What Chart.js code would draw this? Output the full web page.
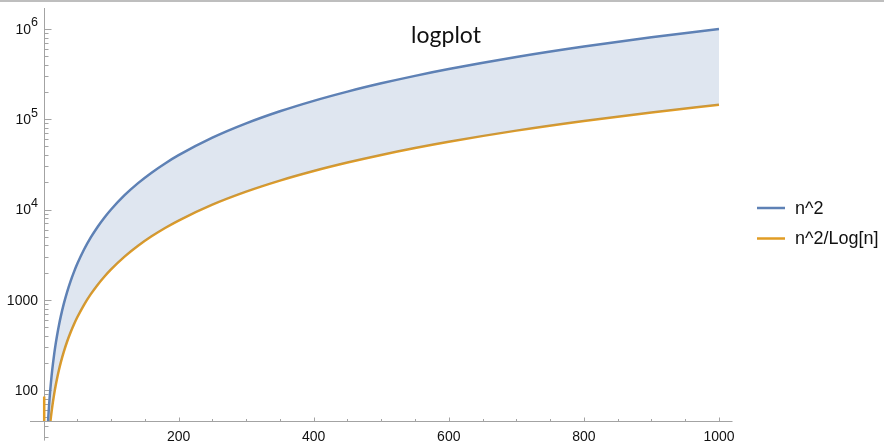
<!DOCTYPE html>
<html>
<head>
<meta charset="utf-8">
<title>logplot</title>
<script src="https://cdn.jsdelivr.net/npm/chart.js@4.4.1/dist/chart.umd.min.js"></script>
<style>
    html, body { margin: 0; padding: 0; background: #fff; }
    #wrap { position: relative; width: 884px; height: 442px; }
</style>
</head>
<body>
<div id="wrap"><canvas id="logChart"></canvas></div>
<script>
// Data
const nValues = [6.5, 7, 8, 9, 10, 11, 12, 13, 14, 16, 18, 20, 23, 26, 30, 35, 40, 45, 50, 60, 70, 80, 90, 100,
    120, 140, 160, 180, 200, 250, 300, 350, 400, 450, 500, 550, 600, 700, 800, 900, 1000];
const squareVals = [42.25, 49, 64, 81, 100, 121, 144, 169, 196, 256, 324, 400, 529, 676, 900, 1225, 1600, 2025, 2500,
    3600, 4900, 6400, 8100, 10000, 14400, 19600, 25600, 32400, 40000, 62500, 90000, 122500, 160000, 202500,
    250000, 302500, 360000, 490000, 640000, 810000, 1000000];
const squareOverLogVals = [22.6, 25.2, 30.8, 36.9, 43.4, 50.5, 58.0, 65.9, 74.3, 92.3, 112.1, 133.5, 168.7, 207.5,
    264.6, 344.6, 433.7, 532.0, 639.1, 879.3, 1153.3, 1460.5, 1800.1, 2171.5, 3007.8, 3966.3, 5044.1, 6239.2,
    7549.6, 11319.4, 15779.0, 20912.3, 26704.5, 33146.7, 40228.4, 47940.5, 56277.3, 74796.6, 95742.4,
    119075.6, 144764.8];
// the n^2/Log[n] branch right after n = 1
const spikeN = [1.012, 1.03];
const spikeVals = [85, 36];

const seriesNames = ['n^2', 'n^2/Log[n]'];
const xTickVals = [200, 400, 600, 800, 1000];
const yTickVals = [100, 1000, 1e4, 1e5, 1e6];
const yTickLabels = [['100', ''], ['1000', ''], ['10', '4'], ['10', '5'], ['10', '6']];

const BLUE = '#5e81b5';
const ORANGE = '#e19c24';
const AXIS = '#a3a3a3';

function toPoints(xs, ys) { return xs.map((x, i) => ({ x: x, y: ys[i] })); }

const axesPlugin = {
    id: 'mmaAxes',
    beforeDatasetsDraw(chart) {
        const ctx = chart.ctx;
        const xs = chart.scales.x, ys = chart.scales.y;
        const x0 = Math.round(xs.getPixelForValue(0)) + 0.5;
        const yBase = chart.chartArea.bottom + 0.5;
        const yLow = 27.5;
        ctx.save();
        ctx.strokeStyle = AXIS;
        ctx.lineWidth = 1;
        ctx.beginPath();
        ctx.moveTo(chart.chartArea.left, yBase); ctx.lineTo(chart.chartArea.right, yBase);
        ctx.moveTo(x0, chart.chartArea.top); ctx.lineTo(x0, ys.getPixelForValue(yLow));
        // x ticks, every 50, major at 200s
        for (let v = 50; v <= 1000; v += 50) {
            const px = Math.round(xs.getPixelForValue(v)) + 0.5;
            const len = v % 200 === 0 ? 4 : 2.5;
            ctx.moveTo(px, yBase); ctx.lineTo(px, yBase - len);
        }
        // y ticks on the log axis
        for (let d = 10; d <= 1e6; d *= 10) {
            for (let k = 1; k <= 9; k++) {
                const v = d * k;
                if (v < yLow || v > ys.max) continue;
                const py = Math.round(ys.getPixelForValue(v)) + 0.5;
                const len = k === 1 && d >= 100 ? 7 : 4;
                ctx.moveTo(x0, py); ctx.lineTo(x0 + len, py);
            }
        }
        ctx.stroke();

        ctx.fillStyle = '#111';
        ctx.font = '14px "Liberation Sans", Arial, sans-serif';
        ctx.textAlign = 'center';
        ctx.textBaseline = 'alphabetic';
        xTickVals.forEach(v => ctx.fillText(String(v), xs.getPixelForValue(v), 441));

        yTickVals.forEach((v, i) => {
            const py = ys.getPixelForValue(v);
            const base = yTickLabels[i][0], sup = yTickLabels[i][1];
            const right = 38;
            ctx.textBaseline = 'middle';
            ctx.font = '12.5px "Liberation Sans", Arial, sans-serif';
            const supW = sup ? ctx.measureText(sup).width : 0;
            if (sup) {
                ctx.textAlign = 'right';
                ctx.fillText(sup, right, py - 6);
            }
            ctx.font = '14px "Liberation Sans", Arial, sans-serif';
            ctx.textAlign = 'right';
            ctx.fillText(base, right - supW, py + 1);
        });
        ctx.restore();
    },
    afterDraw(chart) {
        const ctx = chart.ctx;
        ctx.save();
        // frame line along the top
        ctx.strokeStyle = '#a8a8a8';
        ctx.lineWidth = 1.5;
        ctx.beginPath(); ctx.moveTo(0, 1); ctx.lineTo(chart.width, 1); ctx.stroke();

        ctx.fillStyle = '#111';
        ctx.font = '23px Lato, "Open Sans", sans-serif';
        ctx.textAlign = 'center';
        ctx.textBaseline = 'alphabetic';
        ctx.fillText('logplot', 446, 43);

        // legend
        const colors = [BLUE, ORANGE];
        const rows = [208, 238.5];
        ctx.lineWidth = 2.5;
        ctx.font = '18px "Liberation Sans", Arial, sans-serif';
        ctx.textAlign = 'left';
        ctx.textBaseline = 'middle';
        seriesNames.forEach((name, i) => {
            ctx.strokeStyle = colors[i];
            ctx.beginPath(); ctx.moveTo(757, rows[i]); ctx.lineTo(785, rows[i]); ctx.stroke();
            ctx.fillText(name, 795, rows[i] + 1);
        });
        ctx.restore();
    }
};

function init() {
    const ctx = document.getElementById('logChart').getContext('2d');
    new Chart(ctx, {
        type: 'line',
        data: {
            datasets: [
                { label: seriesNames[0], data: toPoints(nValues, squareVals), borderColor: BLUE, borderWidth: 2.5,
                  backgroundColor: 'rgba(94, 129, 181, 0.2)', fill: '+1', pointRadius: 0, cubicInterpolationMode: 'monotone' },
                { label: seriesNames[1], data: toPoints(nValues, squareOverLogVals), borderColor: ORANGE, borderWidth: 2.5,
                  fill: false, pointRadius: 0, cubicInterpolationMode: 'monotone' },
                { label: 'spike', data: toPoints(spikeN, spikeVals), borderColor: ORANGE, borderWidth: 2.5,
                  fill: false, pointRadius: 0 }
            ]
        },
        options: {
            responsive: true,
            maintainAspectRatio: false,
            animation: false,
            layout: { padding: { left: 30, right: 151.5, top: 8, bottom: 21 } },
            plugins: { legend: { display: false }, tooltip: { enabled: false }, title: { display: false } },
            scales: {
                x: { type: 'linear', min: -20, max: 1020, display: false },
                y: { type: 'logarithmic', min: 45.35, max: 1.709e6, display: false }
            }
        },
        plugins: [axesPlugin]
    });
}

window.onload = init;
</script>
</body>
</html>
